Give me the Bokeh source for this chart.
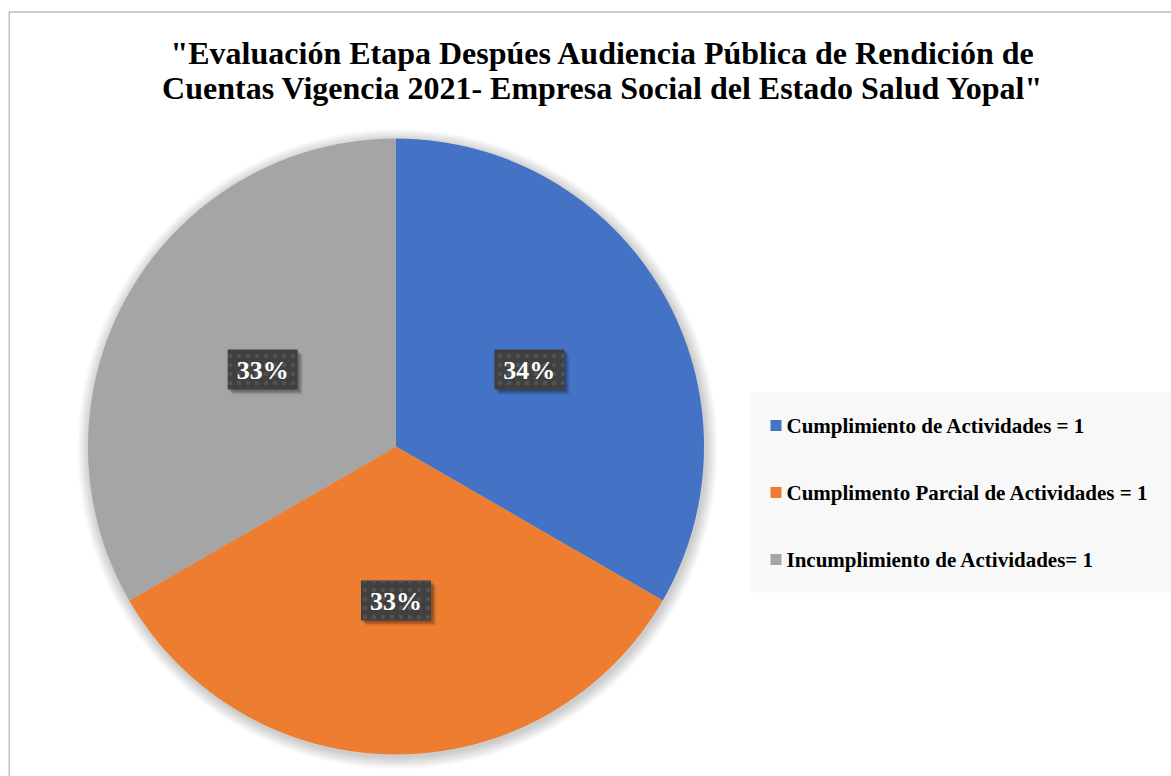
import math
from bokeh.plotting import figure
from bokeh.models import Range1d, ColumnDataSource
from bokeh.core.properties import value
from bokeh.embed import file_html
from bokeh.resources import INLINE

# ---- data ----
categories = ["Cumplimiento de Actividades = 1",
              "Cumplimento Parcial de Actividades = 1",
              "Incumplimiento de Actividades= 1"]
values = [1, 1, 1]
pct_labels = ["34%", "33%", "33%"]
colors = ["#4472C4", "#ED7D31", "#A5A5A5"]
title_lines = ['"Evaluación Etapa Despúes Audiencia Pública de Rendición de',
               'Cuentas Vigencia 2021- Empresa Social del Estado Salud Yopal"']

W, H = 1171, 776
FONT = value("Liberation Serif")

p = figure(width=W, height=H, x_range=Range1d(0, W), y_range=Range1d(0, H),
           output_backend="svg", toolbar_location=None,
           x_axis_type=None, y_axis_type=None, min_border=0,
           outline_line_color=None, background_fill_color="white",
           border_fill_color="white")
p.grid.visible = False

# chart border (left and top visible)
p.line(x=[8.75, 8.75, W], y=[0, 764.5, 764.5], line_color="#bfbfbf", line_width=1.5)

# title
for i, t in enumerate(title_lines):
    p.text(x=[602.5], y=[776 - 52.5 - 35 * i], text=[t], text_font=FONT,
           text_font_size="32px", text_font_style="bold", text_color="#000000",
           text_align="center", text_baseline="middle")

# pie
cx, cy, R = 395.5, 330.0, 308.0
total = sum(values)
starts, ends, mids = [], [], []
cum = 0.0
for v in values:
    a0 = math.pi / 2 - 2 * math.pi * cum / total
    cum += v
    a1 = math.pi / 2 - 2 * math.pi * cum / total
    starts.append(a1)
    ends.append(a0)
    mids.append((a0 + a1) / 2)

# soft shadow
for k in range(10, 0, -1):
    p.circle(x=[cx + 1.5], y=[cy - 2.5], radius=R + k * 1.2,
             fill_color="black", fill_alpha=0.018, line_color=None)

src = ColumnDataSource(dict(start=starts, end=ends, color=colors))
p.wedge(x=cx, y=cy, radius=R, start_angle="start", end_angle="end",
        fill_color="color", line_color=None, source=src)

# data labels
bw, bh = 70, 40
lx = [cx + 0.5 * R * math.cos(m) for m in mids]
ly = [cy + 0.5 * R * math.sin(m) for m in mids]
for dx, dy, a in [(5, -5, 0.10), (3.5, -3.5, 0.13), (2, -2, 0.18)]:
    p.rect(x=[x + dx for x in lx], y=[y + dy for y in ly], width=bw, height=bh,
           fill_color="black", fill_alpha=a, line_color=None)
p.rect(x=lx, y=ly, width=bw, height=bh, fill_color="#404040", line_color=None,
       hatch_pattern="dot", hatch_color="#525252", hatch_scale=9, hatch_weight=2)
p.text(x=lx, y=[y - 1 for y in ly], text=pct_labels, text_font=FONT,
       text_font_size="26px", text_font_style="bold", text_color="white",
       text_align="center", text_baseline="middle")

# legend
p.quad(left=[750], right=[W], bottom=[184], top=[384], fill_color="#f8f8f8",
       line_color=None)
leg_y = [351 - 67 * i for i in range(len(categories))]
p.scatter(x=[775.5] * len(categories), y=leg_y, marker="square", size=11,
          fill_color=colors, line_color=None)
p.text(x=[786] * len(categories), y=leg_y, text=categories,
       text_font=FONT, text_font_size="21px", text_font_style="bold",
       text_color="#000000", text_align="left", text_baseline="middle")

open("out.html", "w").write(file_html(p, INLINE))
